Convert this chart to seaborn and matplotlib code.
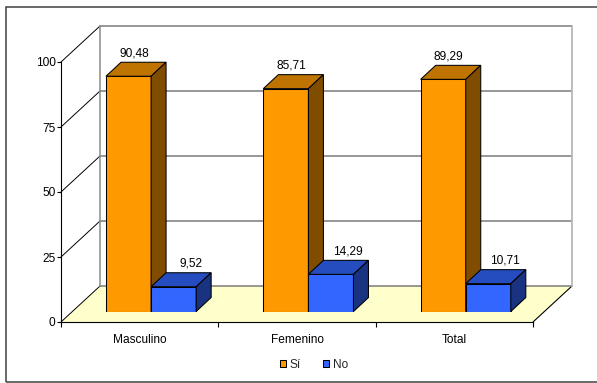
import matplotlib
matplotlib.use("Agg")
import matplotlib.pyplot as plt
from matplotlib.patches import Polygon, Rectangle, Patch
import seaborn as sns
import pandas as pd

# --- data -------------------------------------------------------------
categories = ["Masculino", "Femenino", "Total"]
series = ["Sí", "No"]
si_values = [90.48, 85.71, 89.29]
no_values = [9.52, 14.29, 10.71]
y_ticks = [0, 25, 50, 75, 100]

colors = {"Sí": "#FF9900", "No": "#3366FF"}

df = pd.DataFrame({
    "categoria": categories * 2,
    "serie": [series[0]] * len(categories) + [series[1]] * len(categories),
    "valor": si_values + no_values,
})

# --- figure geometry (pixels) ----------------------------------------
W, H = 597, 383
DPI = 100
sns.set_theme(style="white")
plt.rcParams["font.family"] = ["Liberation Sans", "DejaVu Sans"]
plt.rcParams["font.size"] = 8.6

fig = plt.figure(figsize=(W / DPI, H / DPI), dpi=DPI)
fig.patch.set_facecolor("white")

# front plane of the plot box
ax_left, ax_bottom, ax_w, ax_h = 61, 61, 472, 260
# bars sit a little deeper in the box
bar_dx, bar_dy = 11.4, 10.5
# back wall depth
wall_dx, wall_dy = 39, 36
# bar depth
depth_dx, depth_dy = 15, 14

xmin, xmax = -0.5, len(categories) - 0.5
ymin, ymax = 0, 100
sx = ax_w / (xmax - xmin)   # px per x unit
sy = ax_h / (ymax - ymin)   # px per y unit

ax = fig.add_axes([ax_left / W, ax_bottom / H, ax_w / W, ax_h / H])
ax_bar = fig.add_axes([(ax_left + bar_dx) / W, (ax_bottom + bar_dy) / H, ax_w / W, ax_h / H])

for a in (ax, ax_bar):
    a.set_xlim(xmin, xmax)
    a.set_ylim(ymin, ymax)
    a.patch.set_alpha(0)

# outer frame of the chart area
fig.patches.append(Rectangle((6 / W, 1 / H), 610 / W, 375 / H, transform=fig.transFigure,
                             fill=False, edgecolor="#404040", linewidth=1.1, zorder=0))

# --- box: floor, side wall and back wall --------------------------------
wx, wy = wall_dx / sx, wall_dy / sy
floor = Polygon([(xmin, 0), (xmax, 0), (xmax + wx, wy), (xmin + wx, wy)], closed=True,
                facecolor="#FFFFCC", edgecolor="none", clip_on=False, zorder=0.5)
ax.add_patch(floor)
# floor right edge
ax.plot([xmax, xmax + wx], [0, wy], color="black", lw=0.8, clip_on=False, zorder=1)

for v in y_ticks:
    # side wall lines
    ax.plot([xmin, xmin + wx], [v, v + wy], color="black", lw=0.7, clip_on=False, zorder=1)
    # back wall gridlines
    ax.plot([xmin + wx, xmax + wx], [v + wy, v + wy], color="#7a7a7a", lw=1.1,
            clip_on=False, zorder=1)
# back wall vertical edges
ax.plot([xmin + wx, xmin + wx], [wy, ymax + wy], color="#8c8c8c", lw=1.1, clip_on=False, zorder=1)
ax.plot([xmax + wx, xmax + wx], [wy, ymax + wy], color="#b8b8b8", lw=1.3, clip_on=False, zorder=1)

# axes lines on the front plane
for side in ("top", "right"):
    ax.spines[side].set_visible(False)
ax.spines["left"].set_color("black")
ax.spines["left"].set_linewidth(0.8)
ax.spines["bottom"].set_color("black")
ax.spines["bottom"].set_linewidth(0.8)

ax.set_yticks(y_ticks)
ax.set_yticklabels([str(v) for v in y_ticks])
ax.tick_params(axis="y", direction="out", length=3, width=0.8, pad=1, colors="black",
               labelsize=8.6, left=True)
ax.set_xticks(range(len(categories)))
ax.set_xticklabels(categories)
ax.set_xticks([xmin + i for i in range(len(categories) + 1)], minor=True)
ax.tick_params(axis="x", which="major", length=0, pad=8.5, labelsize=8.6, colors="black")
ax.tick_params(axis="x", which="minor", direction="out", length=3.5, width=0.8,
               color="black", bottom=True)
ax.set_xlabel("")
ax.set_ylabel("")

# --- bars --------------------------------------------------------------
sns.barplot(data=df, x="categoria", y="valor", hue="serie", order=categories,
            hue_order=series, palette=colors, width=0.573, gap=0, legend=False,
            edgecolor="black", linewidth=0.75, saturation=1, ax=ax_bar, errorbar=None)
ax_bar.set_xlim(xmin, xmax)
ax_bar.set_ylim(ymin, ymax)
ax_bar.axis("off")

def shade(hex_color, f):
    r, g, b = matplotlib.colors.to_rgb(hex_color)
    return (r * f, g * f, b * f)

dx, dy = depth_dx / sx, depth_dy / sy
label_shift = {"Sí": 5.5, "No": 17.0}   # px, horizontal placement of value labels

for k, (name, container) in enumerate(zip(series, ax_bar.containers)):
    base_z = 2 + k
    for rect in container.patches:
        rect.set_zorder(base_z)
        x0 = rect.get_x()
        x1 = x0 + rect.get_width()
        h = rect.get_height()
        top = Polygon([(x0, h), (x1, h), (x1 + dx, h + dy), (x0 + dx, h + dy)], closed=True,
                      facecolor=shade(colors[name], 0.75), edgecolor="black", linewidth=0.75,
                      clip_on=False, zorder=base_z + 0.5)
        side = Polygon([(x1, 0), (x1, h), (x1 + dx, h + dy), (x1 + dx, dy)], closed=True,
                       facecolor=shade(colors[name], 0.5), edgecolor="black", linewidth=0.75,
                       clip_on=False, zorder=base_z + 0.5)
        ax_bar.add_patch(top)
        ax_bar.add_patch(side)
        xc = (x0 + x1) / 2 + label_shift[name] / sx
        ax_bar.text(xc, h + dy + 6 / sy, f"{h:.2f}".replace(".", ","), ha="center",
                    va="baseline", fontsize=8.6, color="black", clip_on=False, zorder=6)

# --- legend -------------------------------------------------------------
handles = [Patch(facecolor=colors[s], edgecolor="black", linewidth=0.75, label=s) for s in series]
fig.legend(handles=handles, loc="center", bbox_to_anchor=(314 / W, 1 - 365 / H), ncol=2,
           frameon=False, fontsize=8.6, handlelength=0.55, handleheight=0.55,
           handletextpad=0.3, columnspacing=1.8, borderpad=0)

fig.savefig("out.png", dpi=DPI)
